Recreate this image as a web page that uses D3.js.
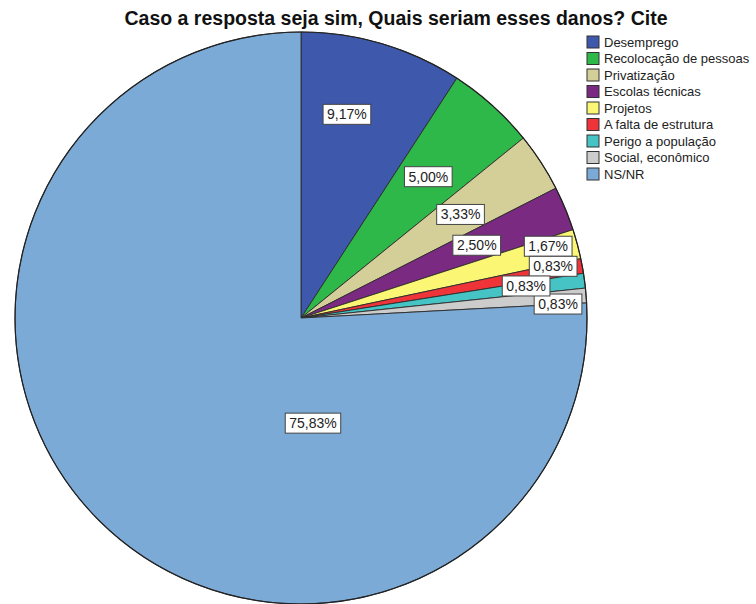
<!DOCTYPE html>
<html lang="pt">
  <head>
    <meta charset="utf-8" />
    <script src="https://d3js.org/d3.v7.min.js"></script>
    <style>
      body { margin: 0; background: #fff; }
      text { font-family: "Liberation Sans", Arial, sans-serif; }
    </style>
  </head>
  <body>
    <script>
      // data
      var categories = [
        "Desemprego",
        "Recolocação de pessoas",
        "Privatização",
        "Escolas técnicas",
        "Projetos",
        "A falta de estrutura",
        "Perigo a população",
        "Social, econômico",
        "NS/NR"
      ];
      var percents = [9.17, 5.0, 3.33, 2.5, 1.67, 0.83, 0.83, 0.83, 75.83];
      var colors = [
        "#3e58ac", "#2fb84a", "#d4cf98", "#7a2a80", "#fbf775",
        "#ee3339", "#46c3c4", "#cccccc", "#7caad6"
      ];
      var title = "Caso a resposta seja sim, Quais seriam esses danos? Cite";

      var width = 756,
        height = 604;
      var cx = 301,
        cy = 318,
        r = 286;

      var svg = d3
        .select("body")
        .append("svg")
        .attr("width", width)
        .attr("height", height);

      svg
        .append("text")
        .attr("x", 396)
        .attr("y", 25)
        .attr("text-anchor", "middle")
        .style("font-size", "19.5px")
        .style("font-weight", "bold")
        .attr("fill", "#111")
        .text(title);

      var pie = d3.pie().sort(null).value(function (d) { return d; });
      var arcs = pie(percents);
      var arc = d3.arc().innerRadius(0).outerRadius(r);

      var g = svg.append("g").attr("transform", "translate(" + cx + "," + cy + ")");

      g.selectAll("path")
        .data(arcs)
        .join("path")
        .attr("d", arc)
        .attr("fill", function (d, i) { return colors[i]; })
        .attr("stroke", "#2b2b2b")
        .attr("stroke-width", 0.9);

      // outer rim a bit darker
      g.append("circle")
        .attr("r", r)
        .attr("fill", "none")
        .attr("stroke", "#222")
        .attr("stroke-width", 1.2);

      // label placement: radius factor and small angle nudge (deg), like SPSS does it
      function labelSpot(d, i) {
        var mid = (d.startAngle + d.endAngle) / 2;
        var f = 0.665, off = 0;
        if (i === 0) { f = 0.73; off = -3.8; }
        if (d.data < 2) {
          f = 0.9;
          off = [-1.2, -1.1, -0.6, 1.4][(i - 4) % 4];
          if (i === 6) f = 0.795;
        }
        if (d.data > 50) { mid = (173.5 * Math.PI) / 180; f = 0.37; off = 0; }
        var a = mid + (off * Math.PI) / 180;
        return [Math.sin(a) * r * f, -Math.cos(a) * r * f];
      }

      var fmt = function (v) { return v.toFixed(2).replace(".", ",") + "%"; };

      var order = [0, 1, 2, 3, 4, 5, 7, 6, 8];
      order.forEach(function (i) {
        var d = arcs[i];
        var p = labelSpot(d, i);
        var lg = g.append("g").attr("transform", "translate(" + p[0] + "," + p[1] + ")");
        var t = lg
          .append("text")
          .attr("text-anchor", "middle")
          .attr("dy", "0.36em")
          .style("font-size", "14px")
          .attr("fill", "#222")
          .text(fmt(d.data));
        var w = t.node().getComputedTextLength() + 8;
        lg.insert("rect", "text")
          .attr("x", -w / 2)
          .attr("y", -10)
          .attr("width", w)
          .attr("height", 20)
          .attr("fill", "#fff")
          .attr("stroke", "#444")
          .attr("stroke-width", 1);
      });

      // legend
      var legend = svg
        .append("g")
        .selectAll("g")
        .data(categories)
        .join("g")
        .attr("transform", function (d, i) { return "translate(587," + (36 + i * 16.5) + ")"; });

      legend
        .append("rect")
        .attr("width", 12)
        .attr("height", 12)
        .attr("fill", function (d, i) { return colors[i]; })
        .attr("stroke", "#333")
        .attr("stroke-width", 1);

      legend
        .append("text")
        .attr("x", 17)
        .attr("y", 6)
        .attr("dy", "0.36em")
        .style("font-size", "13px")
        .attr("fill", "#222")
        .text(function (d) { return d; });
    </script>
  </body>
</html>
